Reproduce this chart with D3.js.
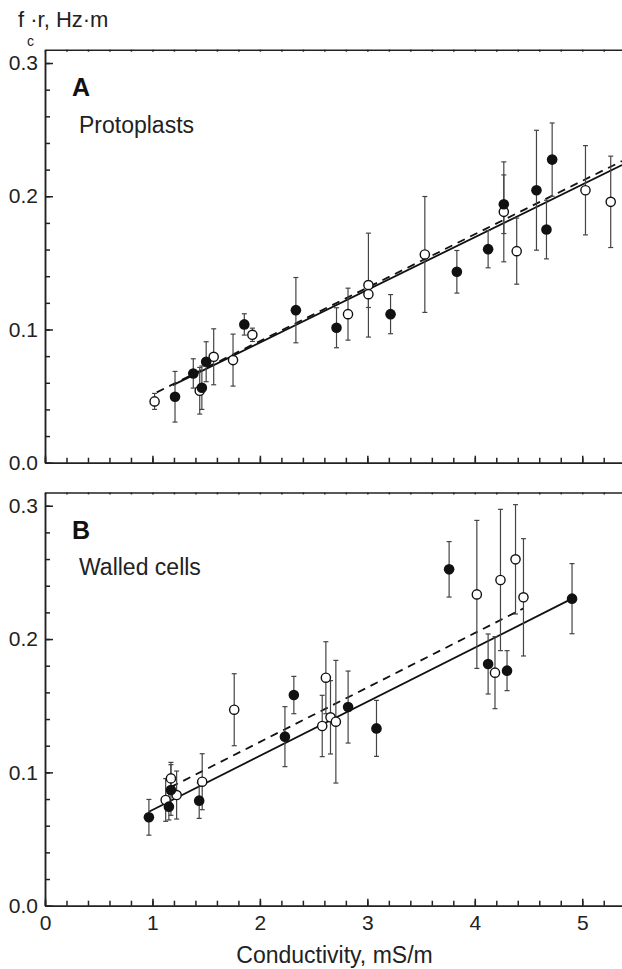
<!DOCTYPE html>
<html>
<head>
<meta charset="utf-8">
<script src="https://cdn.jsdelivr.net/npm/d3@7"></script>
<style>
  body { margin: 0; background: #fff; }
  svg { display: block; font-family: "Liberation Sans", Arial, Helvetica, sans-serif; }
  .axis path, .axis line { stroke: #222; }
</style>
</head>
<body>
<svg id="chart" width="622" height="969"></svg>
<script>
// conductivity (mS/m), fc*r (Hz*m), error half width

// panel A - protoplasts
var openAx = [1.02, 1.44, 1.57, 1.75, 1.93, 2.82, 3.01, 3.01, 3.535, 4.27, 4.39, 5.03, 5.265];
var openAy = [0.046, 0.054, 0.0795, 0.077, 0.096, 0.1115, 0.1333, 0.1265, 0.1563, 0.1883, 0.1588, 0.2045, 0.1958];
var openAe = [0.006, 0.0175, 0.021, 0.0195, 0.005, 0.0195, 0.039, 0.010, 0.0435, 0.0375, 0.0248, 0.0335, 0.0343];

var fillAx = [1.21, 1.38, 1.46, 1.50, 1.855, 2.335, 2.713, 3.216, 3.833, 4.124, 4.27, 4.574, 4.667, 4.72];
var fillAy = [0.0495, 0.067, 0.0563, 0.0758, 0.1038, 0.1145, 0.1013, 0.1115, 0.1433, 0.1603, 0.194, 0.2045, 0.175, 0.2275];
var fillAe = [0.019, 0.011, 0.0163, 0.015, 0.008, 0.0245, 0.015, 0.0147, 0.016, 0.014, 0.022, 0.045, 0.022, 0.0275];

var solidA = [[1.19, 0.0582], [5.37, 0.2234]];
var dashA = [[1.04, 0.0528], [5.37, 0.2264]];

// panel B - walled cells
var openBx = [1.123, 1.172, 1.225, 1.463, 1.761, 2.58, 2.614, 2.657, 2.707, 4.019, 4.188, 4.239, 4.379, 4.453];
var openBy = [0.0793, 0.0955, 0.083, 0.093, 0.147, 0.1348, 0.171, 0.1413, 0.138, 0.2335, 0.1748, 0.2443, 0.2598, 0.2313];
var openBe = [0.016, 0.012, 0.018, 0.021, 0.027, 0.023, 0.027, 0.0275, 0.046, 0.0555, 0.027, 0.053, 0.041, 0.044];

var fillBx = [0.967, 1.153, 1.172, 1.435, 2.233, 2.316, 2.821, 3.085, 3.761, 4.124, 4.3, 4.905];
var fillBy = [0.0663, 0.0743, 0.0868, 0.0788, 0.1268, 0.158, 0.149, 0.133, 0.2523, 0.1813, 0.1763, 0.2303];
var fillBe = [0.0134, 0.010, 0.019, 0.0133, 0.0225, 0.014, 0.027, 0.021, 0.0208, 0.0225, 0.015, 0.0263];

var solidB = [[0.967, 0.0705], [4.905, 0.2303]];
var dashB = [[1.17, 0.0889], [4.453, 0.223]];

var xTicks = [0, 1, 2, 3, 4, 5];
var yTicks = [0, 0.1, 0.2, 0.3];

var svg = d3.select("#chart");

var x = d3.scaleLinear().domain([0, 5.37]).range([45, 622]);
var xMinor = d3.range(0, 27).map(function(i) { return i * 0.2; });
var yMinor = d3.range(0, 16).map(function(i) { return i * 0.02; });

function pts(xs, ys, es) {
  return xs.map(function(v, i) { return { x: v, y: ys[i], e: es[i] }; });
}

function panel(top, bottom, opts) {
  var y = d3.scaleLinear().domain([0, 0.31]).range([bottom, top]);
  var g = svg.append("g");

  // frame top with small ticks
  g.append("g").attr("class", "axis")
    .attr("transform", "translate(0," + top + ")")
    .call(d3.axisTop(x).tickValues(xMinor).tickSize(-2).tickSizeOuter(0).tickFormat(""))
    .selectAll("path, line").attr("stroke-width", 1.5);

  // left axis
  g.append("g").attr("class", "axis")
    .attr("transform", "translate(45,0)")
    .call(d3.axisLeft(y).tickValues(yMinor).tickSize(-5).tickSizeOuter(0).tickFormat(""))
    .selectAll("path, line").attr("stroke-width", 1.5);
  var ya = g.append("g").attr("class", "axis")
    .attr("transform", "translate(45,0)")
    .call(d3.axisLeft(y).tickValues(yTicks).tickSize(-8).tickSizeOuter(0).tickPadding(7).tickFormat(d3.format(".1f")));
  ya.selectAll("path, line").attr("stroke-width", 1.5);
  ya.selectAll("text").attr("font-size", 21).attr("fill", "#222")
    .style("font-family", "'Liberation Sans', Arial, sans-serif");

  // bottom axis
  g.append("g").attr("class", "axis")
    .attr("transform", "translate(0," + bottom + ")")
    .call(d3.axisBottom(x).tickValues(xMinor).tickSize(-5).tickSizeOuter(0).tickFormat(""))
    .selectAll("path, line").attr("stroke-width", 1.5);
  var xa = g.append("g").attr("class", "axis")
    .attr("transform", "translate(0," + bottom + ")")
    .call(d3.axisBottom(x).tickValues(xTicks).tickSize(-7).tickSizeOuter(0).tickPadding(9)
      .tickFormat(opts.xLabels ? d3.format("d") : ""));
  xa.selectAll("path, line").attr("stroke-width", 1.5);
  xa.selectAll("text").attr("font-size", 21).attr("fill", "#222")
    .style("font-family", "'Liberation Sans', Arial, sans-serif");

  var line = d3.line().x(function(d) { return x(d[0]); }).y(function(d) { return y(d[1]); });

  g.append("path").datum(opts.dash)
    .attr("d", line).attr("fill", "none").attr("stroke", "#111")
    .attr("stroke-width", 1.8).attr("stroke-dasharray", "8,6");
  g.append("path").datum(opts.solid)
    .attr("d", line).attr("fill", "none").attr("stroke", "#111")
    .attr("stroke-width", 1.8);

  var all = opts.open.concat(opts.filled);

  // error bars
  var eb = g.append("g").selectAll("g").data(all).enter().append("g")
    .attr("stroke", "#444").attr("stroke-width", 1.2);
  eb.append("line")
    .attr("x1", function(d) { return x(d.x); }).attr("x2", function(d) { return x(d.x); })
    .attr("y1", function(d) { return y(d.y - d.e); }).attr("y2", function(d) { return y(d.y + d.e); });
  eb.append("line")
    .attr("x1", function(d) { return x(d.x) - 2.5; }).attr("x2", function(d) { return x(d.x) + 2.5; })
    .attr("y1", function(d) { return y(d.y + d.e); }).attr("y2", function(d) { return y(d.y + d.e); });
  eb.append("line")
    .attr("x1", function(d) { return x(d.x) - 2.5; }).attr("x2", function(d) { return x(d.x) + 2.5; })
    .attr("y1", function(d) { return y(d.y - d.e); }).attr("y2", function(d) { return y(d.y - d.e); });

  g.append("g").selectAll("circle").data(opts.open).enter().append("circle")
    .attr("cx", function(d) { return x(d.x); })
    .attr("cy", function(d) { return y(d.y); })
    .attr("r", 4.6)
    .attr("fill", "#fff").attr("stroke", "#111").attr("stroke-width", 1.4);

  g.append("g").selectAll("circle").data(opts.filled).enter().append("circle")
    .attr("cx", function(d) { return x(d.x); })
    .attr("cy", function(d) { return y(d.y); })
    .attr("r", 5.3)
    .attr("fill", "#111");

  g.append("text").attr("x", 72).attr("y", top + 46.5)
    .attr("font-size", 25).attr("font-weight", "bold").attr("fill", "#111")
    .text(opts.letter);
  g.append("text").attr("x", 79).attr("y", top + 83)
    .attr("font-size", 23).attr("fill", "#222")
    .text(opts.name);
}

panel(49.7, 462.7, {
  open: pts(openAx, openAy, openAe), filled: pts(fillAx, fillAy, fillAe),
  solid: solidA, dash: dashA, letter: "A", name: "Protoplasts", xLabels: false
});
panel(492.4, 905.7, {
  open: pts(openBx, openBy, openBe), filled: pts(fillBx, fillBy, fillBe),
  solid: solidB, dash: dashB, letter: "B", name: "Walled cells", xLabels: true
});

// axis titles
svg.append("text").attr("x", 18).attr("y", 27)
  .attr("font-size", 22).attr("fill", "#222")
  .text("f \u00b7r, Hz\u00b7m");
svg.append("text").attr("x", 27).attr("y", 45.5)
  .attr("font-size", 14).attr("fill", "#222")
  .text("c");
svg.append("text").attr("x", 334.5).attr("y", 963)
  .attr("text-anchor", "middle")
  .attr("font-size", 23).attr("fill", "#222")
  .text("Conductivity, mS/m");
</script>
</body>
</html>
